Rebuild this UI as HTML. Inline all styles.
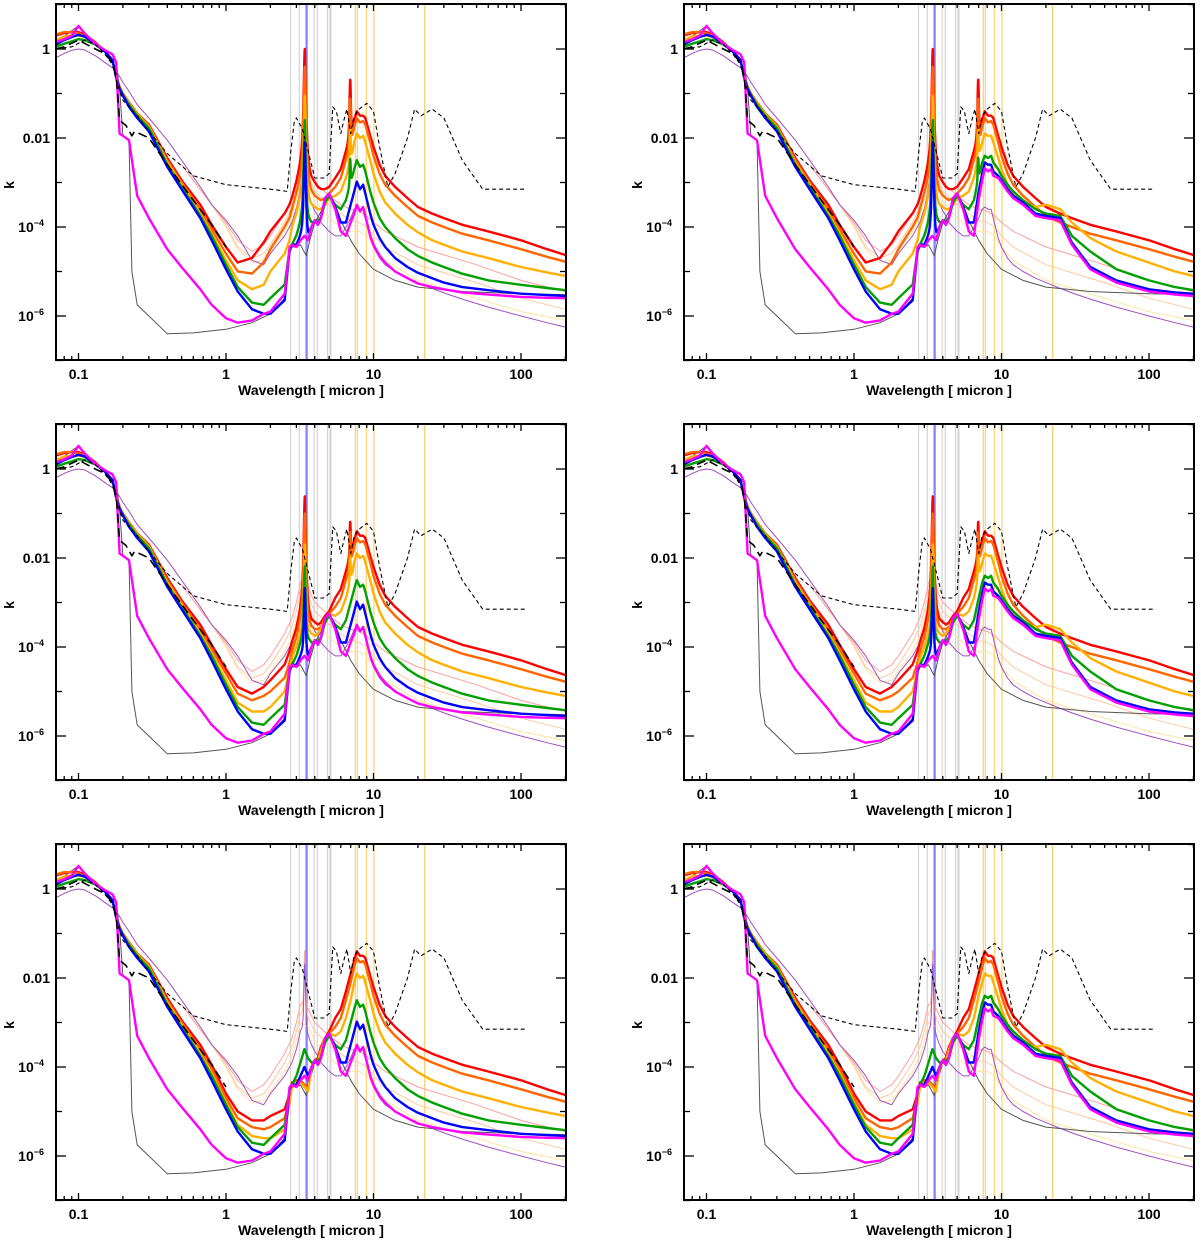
<!DOCTYPE html>
<html><head><meta charset="utf-8"><title>k spectra</title>
<style>
html,body{margin:0;padding:0;background:#fff;}
svg{display:block;font-family:"Liberation Sans",sans-serif;}
.lbl{font-size:14px;font-weight:bold;fill:#000;}
</style></head>
<body>
<svg id="chart" width="1200" height="1243" viewBox="0 0 1200 1243" xmlns="http://www.w3.org/2000/svg"></svg>
<script>
// ---------- data (log10 k) ----------
const uvGrid=[0.07,0.08,0.09,0.1,0.11,0.13,0.15,0.17,0.18,0.19,0.2,0.22,0.25,0.3,0.4,0.5,0.67,0.8,1.0,1.2,1.5,1.8];
const mirGrid=[2.0,2.5,2.7,2.8,3.0,3.2,3.4,3.6,3.8,4.0,4.2,4.4,4.7,5.0,5.5,6.0,6.5,7.0,7.4,7.7,8.1,8.5,8.8,9.5,10,11,12,14,17,20,25,30,40,60,100,150,200];

const redUV=[.3,.36,.38,.38,.33,.15,-.05,-.25,-.6,-.85,-1.0,-1.2,-1.45,-1.7,-2.45,-2.95,-3.5,-3.95,-4.45,-4.8,-4.7,-4.35];
const orangeUV=[.33,.38,.38,.35,.3,.13,-.05,-.25,-.6,-.85,-1.0,-1.2,-1.45,-1.72,-2.5,-3.0,-3.6,-4.05,-4.6,-5.0,-5.05,-4.8];
const yellowUV=[.2,.28,.3,.3,.27,.12,-.05,-.25,-.62,-.87,-1.02,-1.22,-1.47,-1.75,-2.55,-3.05,-3.7,-4.15,-4.75,-5.2,-5.4,-5.3];
const greenUV=[.05,.12,.17,.22,.2,.1,-.05,-.25,-.62,-.88,-1.03,-1.25,-1.5,-1.78,-2.6,-3.1,-3.75,-4.2,-4.85,-5.35,-5.7,-5.75];
const blueUV=[.1,.2,.27,.32,.28,.12,-.05,-.25,-.65,-.9,-1.05,-1.3,-1.55,-1.85,-2.65,-3.15,-3.8,-4.3,-4.95,-5.45,-5.85,-5.95];
const magentaUV=[.15,.22,.3,.52,.35,.12,-.02,-.12,-.3,-1.9,-1.95,-2.05,-3.3,-3.8,-4.5,-4.9,-5.4,-5.75,-6.05,-6.15,-6.1,-5.95];

const redMIR=[-4.1,-3.7,-3.5,-3.35,-3.0,-2.6,-2.4,-2.7,-2.9,-3.0,-3.1,-3.15,-3.15,-3.1,-2.9,-2.7,-2.3,-1.9,-1.6,-1.4,-1.5,-1.5,-1.55,-1.95,-2.2,-2.6,-2.85,-3.1,-3.35,-3.55,-3.7,-3.8,-3.95,-4.1,-4.3,-4.5,-4.63];
const orangeMIR=[-4.5,-4.0,-3.8,-3.6,-3.25,-2.9,-2.7,-3.0,-3.2,-3.3,-3.35,-3.4,-3.35,-3.25,-3.1,-2.9,-2.5,-2.1,-1.75,-1.55,-1.65,-1.62,-1.7,-2.1,-2.4,-2.8,-3.05,-3.3,-3.55,-3.75,-3.9,-4.0,-4.15,-4.3,-4.5,-4.67,-4.78];
const yellowMIR=[-5.0,-4.6,-4.3,-4.0,-3.7,-3.3,-3.1,-3.35,-3.5,-3.55,-3.6,-3.6,-3.5,-3.35,-3.3,-3.2,-2.9,-2.5,-2.1,-1.9,-2.0,-1.95,-2.1,-2.5,-2.8,-3.2,-3.45,-3.7,-3.95,-4.12,-4.3,-4.4,-4.55,-4.7,-4.9,-5.02,-5.1];
const greenMIR=[-5.6,-5.3,-4.5,-4.4,-4.2,-3.9,-3.6,-3.8,-3.9,-3.9,-3.85,-3.8,-3.45,-3.3,-3.5,-3.6,-3.4,-3.0,-2.7,-2.5,-2.65,-2.6,-2.75,-3.2,-3.45,-3.8,-4.0,-4.25,-4.5,-4.65,-4.8,-4.9,-5.05,-5.2,-5.3,-5.37,-5.42];
const blueMIR=[-5.95,-5.65,-4.5,-4.4,-4.4,-4.2,-4.0,-4.2,-4.0,-3.85,-3.95,-3.8,-3.35,-3.25,-3.55,-3.9,-3.9,-3.5,-3.2,-2.98,-3.15,-3.05,-3.25,-3.7,-3.95,-4.25,-4.45,-4.7,-4.9,-5.03,-5.15,-5.25,-5.35,-5.42,-5.5,-5.53,-5.55];
const magentaMIR=[-5.9,-5.5,-4.45,-4.4,-4.45,-4.3,-4.2,-4.3,-4.0,-3.85,-3.95,-3.8,-3.35,-3.25,-3.6,-4.1,-4.2,-3.9,-3.7,-3.5,-3.65,-3.55,-3.75,-4.2,-4.4,-4.65,-4.8,-5.0,-5.15,-5.27,-5.35,-5.4,-5.47,-5.52,-5.57,-5.59,-5.6];

// right-column tails (mirGrid index 17..36)
const yellowRight=[-2.4,-2.1,-1.9,-1.95,-1.95,-2.1,-2.45,-2.7,-3.05,-3.25,-3.45,-3.55,-3.5,-3.6,-3.9,-4.25,-4.55,-4.8,-5.0,-5.1];
const greenRight=[-2.9,-2.55,-2.4,-2.45,-2.4,-2.55,-2.7,-2.85,-3.05,-3.2,-3.4,-3.6,-3.7,-3.75,-4.2,-4.55,-4.95,-5.2,-5.35,-5.42];
const blueRight=[-3.2,-2.8,-2.55,-2.6,-2.6,-2.75,-2.85,-2.95,-3.15,-3.3,-3.45,-3.7,-3.75,-3.8,-4.35,-4.9,-5.2,-5.4,-5.47,-5.5];
const magentaRight=[-3.4,-2.95,-2.68,-2.75,-2.7,-2.85,-2.9,-3.0,-3.2,-3.35,-3.5,-3.75,-3.8,-3.85,-4.4,-4.95,-5.25,-5.45,-5.52,-5.55];

// row overrides: uvGrid idx 18..21, mirGrid idx 0..13
const redUVRow2=[-4.5,-4.9,-5.05,-4.9], orangeUVRow2=[-4.6,-5.05,-5.2,-5.1], yellowUVRow2=[-4.75,-5.25,-5.45,-5.45];
const redUVRow3=[-4.6,-5.0,-5.2,-5.2], orangeUVRow3=[-4.7,-5.15,-5.35,-5.4], yellowUVRow3=[-4.8,-5.3,-5.55,-5.6];
const redMIRRow2=[-4.75,-4.4,-4.1,-3.9,-3.6,-3.2,-3.0,-3.2,-3.4,-3.45,-3.5,-3.45,-3.3,-3.2];
const orangeMIRRow2=[-5.0,-4.7,-4.35,-4.1,-3.8,-3.4,-3.2,-3.4,-3.55,-3.6,-3.6,-3.55,-3.35,-3.25];
const yellowMIRRow2=[-5.35,-5.0,-4.5,-4.25,-4.0,-3.7,-3.5,-3.6,-3.7,-3.75,-3.7,-3.6,-3.35,-3.25];
const redMIRRow3=[-5.1,-4.95,-4.6,-4.35,-4.3,-4.3,-4.4,-4.45,-4.0,-3.85,-3.8,-3.55,-3.35,-3.2];
const orangeMIRRow3=[-5.35,-5.15,-4.7,-4.4,-4.3,-4.3,-4.4,-4.5,-4.0,-3.85,-3.85,-3.6,-3.35,-3.25];
const yellowMIRRow3=[-5.6,-5.4,-4.8,-4.45,-4.35,-4.35,-4.45,-4.55,-4.0,-3.9,-3.9,-3.65,-3.35,-3.25];

// sharp peaks (log10 peak height) [red, orange, yellow, green, blue, magenta]
const peak34Row1=[0,-0.4,-1.05,-1.6,-2.1,null];
const peak34Row2=[-0.62,-1.0,-1.7,-2.2,-2.7,null];
const peak34Row3=[null,null,null,null,null,null];
const peak69Row1=[-0.7,-1.15,-1.9,-2.6,null,null];
const peak69Row2=[-1.26,-1.5,-2.1,null,null,null];
const peak69Row3=[null,null,null,null,null,null];

// thin lines
const violetGrid=uvGrid.concat(mirGrid);
const violetVals=[-.2,-.1,-.03,0,-.02,-.15,-.3,-.42,-.5,-.62,-.75,-.95,-1.25,-1.55,-2.05,-2.5,-3.1,-3.5,-3.85,-4.2,-4.75,-4.85,
 -4.6,-4.2,-4.0,-3.9,-3.6,-3.2,-3.1,-3.3,-3.5,-3.65,-3.75,-3.9,-4.0,-4.1,-4.2,-4.2,-4.0,-3.8,-3.6,-3.55,-3.6,-3.6,-3.8,-4.25,-4.45,-4.7,-4.85,-5.0,-5.15,-5.25,-5.38,-5.48,-5.62,-5.8,-6.0,-6.15,-6.25];
const thinGrid=[0.5,0.8,1.0,1.2,1.5,1.8,2.0,2.5,2.8,3.0,3.2,3.6,4.0,5.0,6.0,7.0,8.0,9.0,10,12,20,50,100,200];
const pinkVals=[-2.6,-3.5,-3.9,-4.3,-4.55,-4.4,-4.2,-3.7,-3.35,-3.0,-2.6,-2.7,-3.0,-3.3,-3.5,-3.6,-3.65,-3.75,-3.9,-4.1,-4.45,-4.85,-5.2,-5.45];
const peachVals=[-2.6,-3.5,-3.95,-4.45,-4.7,-4.6,-4.4,-3.9,-3.55,-3.2,-2.8,-2.9,-3.2,-3.5,-3.7,-3.85,-3.9,-4.0,-4.2,-4.45,-4.85,-5.25,-5.6,-5.85];
const lightYellowVals=[-2.6,-3.5,-4.0,-4.5,-4.8,-4.75,-4.55,-4.1,-3.75,-3.4,-3.0,-3.1,-3.4,-3.8,-4.0,-4.1,-4.1,-4.2,-4.45,-4.75,-5.2,-5.6,-5.9,-6.1];
const thinPeak34=[-0.4,-0.6,-1.4];

const blackGrid=[0.07,0.1,0.13,0.17,0.18,0.19,0.2,0.22,0.23,0.25,0.3,0.4,0.6,1.0,1.5,2.0,2.5,2.7,2.8,3.0,3.2,3.5,3.7,4.0,4.5,5.0,5.5,6.0,7.0,8.0,10,14,20,40,100,200];
const blackVals=[.15,.52,.12,-.12,-.3,-.9,-1.95,-2.05,-5.0,-5.75,-6.0,-6.4,-6.38,-6.3,-6.15,-5.95,-5.6,-4.6,-4.45,-4.45,-4.4,-4.65,-4.3,-3.9,-3.6,-3.25,-3.5,-3.85,-4.3,-4.6,-4.95,-5.2,-5.35,-5.45,-5.5,-5.52];

const dashGrid=[0.07,0.09,0.11,0.13,0.15,0.17,0.18,0.2,0.25,0.3,0.4,0.6,1.0,2.0,2.6,2.75,2.9,3.0,3.3,3.6,4.0,4.6,5.0,5.3,5.6,6.0,6.3,6.6,7.0,7.4,8.0,9.0,10,11,12.5,14,17,19,21,25,30,40,55,110];
const dashVals=[0,0.05,0.2,0.1,-0.1,-0.35,-0.7,-1.15,-1.5,-1.85,-2.35,-2.85,-3.05,-3.15,-3.2,-2.3,-1.65,-1.55,-1.8,-2.3,-2.9,-2.9,-2.8,-1.3,-1.4,-1.9,-1.6,-1.35,-1.9,-1.5,-1.35,-1.22,-1.4,-2.2,-3.1,-2.8,-2.0,-1.35,-1.5,-1.35,-1.55,-2.5,-3.15,-3.15];
const longDashGrid=[0.07,0.08,0.1,0.13,0.15,0.17,0.18,0.19,0.21,0.23,0.24,0.3,0.4,0.6,0.8,1.0];
const longDashVals=[0,0.05,0.2,0.0,-0.1,-0.3,-0.6,-1.6,-1.72,-1.95,-1.85,-2.0,-2.6,-3.4,-3.95,-4.45];

const grayLines=[2.74,3.14,3.96,4.16,4.88,5.07,5.14];
const blueLines=[3.49,3.55];
const orangeLines=[7.53,7.77,8.94,10.07,22.2];

const xTickMajor=[0.1,1,10,100];
const xTickLabels=["0.1","1","10","100"];
const yTickMajor=[0,-2,-4,-6];
const yTickLabels=["1","0.01","10|−4","10|−6"];

// ---------- drawing ----------
const NS="http://www.w3.org/2000/svg";
const svg=document.getElementById('chart');
const BX0=56,BX1=566,BY0=4,BY1=360;
function mk(tag,attrs,parent){const e=document.createElementNS(NS,tag);for(const k in attrs)e.setAttribute(k,attrs[k]);(parent||svg).appendChild(e);return e;}
function interp(grid,vals,lam){const l=Math.log10(lam);
 if(lam<=grid[0])return vals[0]; if(lam>=grid[grid.length-1])return vals[vals.length-1];
 for(let i=0;i<grid.length-1;i++){if(lam>=grid[i]&&lam<=grid[i+1]){const a=Math.log10(grid[i]),b=Math.log10(grid[i+1]);return vals[i]+(vals[i+1]-vals[i])*(l-a)/(b-a);}}
 return vals[vals.length-1];}
// squared-Lorentzian peak profile (narrow wings)
function lor(lam,l0,logA,g){if(logA===null||logA===undefined)return 0;const A=Math.pow(10,logA);const q=1+((lam-l0)/g)*((lam-l0)/g);return A/(q*q);}

const thickColors=['#ff0000','#ff6600','#ffb000','#00a000','#0000ff','#ff00ff'];
const thickNames=['red','orange','yellow','green','blue','magenta'];
const UVs=[redUV,orangeUV,yellowUV,greenUV,blueUV,magentaUV];
const MIRs=[redMIR,orangeMIR,yellowMIR,greenMIR,blueMIR,magentaMIR];
const RIGHTs=[null,null,yellowRight,greenRight,blueRight,magentaRight];
const UVr2=[redUVRow2,orangeUVRow2,yellowUVRow2,null,null,null];
const UVr3=[redUVRow3,orangeUVRow3,yellowUVRow3,null,null,null];
const MIRr2=[redMIRRow2,orangeMIRRow2,yellowMIRRow2,null,null,null];
const MIRr3=[redMIRRow3,orangeMIRRow3,yellowMIRRow3,null,null,null];
const P34=[peak34Row1,peak34Row2,peak34Row3];
const P69=[peak69Row1,peak69Row2,peak69Row3];

const fine=[];for(let l=3.1;l<=3.8;l+=0.01)fine.push(+l.toFixed(3));for(let l=6.6;l<=7.4;l+=0.02)fine.push(+l.toFixed(3));

function drawPanel(row,col,pi){
 const ox=col*628, oy=row*420;
 const X=lam=>ox+226+147.5*Math.log10(lam);
 const Y=lk=>oy+49-44.5*lk;
 const g=mk('g',{});
 
 
 const cid='clip'+pi;
 const cp=mk('clipPath',{id:cid},g);mk('rect',{x:ox+BX0,y:oy+BY0,width:BX1-BX0,height:BY1-BY0},cp);
 const pg=mk('g',{'clip-path':'url(#'+cid+')'},g);
 
 
 const vline=(lam,c,w)=>{const e=mk('line',{x1:X(lam),x2:X(lam),y1:oy+BY0,y2:oy+BY1,stroke:c,'stroke-width':w},pg);
   
   };
 grayLines.forEach(l=>vline(l,'#d4d4d4',1.2));
 blueLines.forEach(l=>vline(l,'#8080ff',1.2));
 orangeLines.forEach(l=>vline(l,'#ffd070',1.2));
 const path=(pts,c,w,name,dash)=>{let d='';pts.forEach((p,i)=>{d+=(i?'L':'M')+X(p[0]).toFixed(1)+','+Y(p[1]).toFixed(1);});
   const e=mk('path',{d:d,fill:'none',stroke:c,'stroke-width':w,'stroke-linejoin':'round'},pg);
   if(dash)e.setAttribute('stroke-dasharray',dash);
   
   };
 const withPeak=(grid,vals,p34)=>{const lams=grid.concat(fine.filter(f=>f>grid[0]&&f<grid[grid.length-1])).sort((a,b)=>a-b);
   return lams.map(l=>{const b=Math.pow(10,interp(grid,vals,l));return [l,Math.log10(b+lor(l,3.42,p34,0.04))];});};
 // thin lines
 path(withPeak(thinGrid,lightYellowVals,null),'#ffe4a0',1,'thin-lightyellow-line');
 path(withPeak(thinGrid,peachVals,thinPeak34[row]),'#ffc8a0',1,'thin-peach-line');
 path(withPeak(thinGrid,pinkVals,thinPeak34[row]),'#ffa0a0',1,'thin-pink-line');
 path(withPeak(violetGrid,violetVals,thinPeak34[row]-0.3),'#a050c0',1,'thin-violet-line');
 path(blackGrid.map((l,i)=>[l,blackVals[i]]),'#555555',1,'thin-black-line');
 // thick
 for(let i=0;i<6;i++){
   const uv=UVs[i].slice(), mir=MIRs[i].slice();
   const uo=row===1?UVr2[i]:row===2?UVr3[i]:null; if(uo)uo.forEach((v,j)=>uv[18+j]=v);
   const mo=row===1?MIRr2[i]:row===2?MIRr3[i]:null; if(mo)mo.forEach((v,j)=>mir[j]=v);
   if(col===1&&RIGHTs[i])RIGHTs[i].forEach((v,j)=>mir[17+j]=v);
   const grid=uvGrid.concat(mirGrid), vals=uv.concat(mir);
   const lams=grid.concat(fine).sort((a,b)=>a-b);
   const pts=lams.map(l=>{const b=Math.pow(10,interp(grid,vals,l));return [l,Math.log10(b+lor(l,3.42,P34[row][i],0.04)+lor(l,6.95,P69[row][i],0.07))];});
   path(pts,thickColors[i],2.4,'curve-'+thickNames[i]);
 }
 path(longDashGrid.map((l,i)=>[l,longDashVals[i]]),'#000',1.6,'long-dashed-line','9,5');
 path(dashGrid.map((l,i)=>[l,dashVals[i]]),'#000',1.1,'dashed-reference-line','4,3');
 // axes box
 const bx=mk('rect',{x:ox+BX0,y:oy+BY0,width:BX1-BX0,height:BY1-BY0,fill:'none',stroke:'#000','stroke-width':2},g);
 
 
 // x ticks
 for(let d=-2;d<=2;d++)for(let m=1;m<=9;m++){const lam=m*Math.pow(10,d);const x=X(lam);if(x<ox+BX0||x>ox+BX1)continue;
   const L=m===1?7:4;
   mk('line',{x1:x,x2:x,y1:oy+BY1,y2:oy+BY1-L,stroke:'#000','stroke-width':1.3},g);
   mk('line',{x1:x,x2:x,y1:oy+BY0,y2:oy+BY0+L,stroke:'#000','stroke-width':1.3},g);}
 xTickMajor.forEach((v,i)=>{const t=mk('text',{x:X(v),y:oy+379,'text-anchor':'middle',class:'lbl'},g);t.textContent=xTickLabels[i];
   
   });
 // y ticks
 for(let e=-7;e<=1;e++){const y=Y(e);const L=(e%2===0)?10:6;
   mk('line',{x1:ox+BX0,x2:ox+BX0+L,y1:y,y2:y,stroke:'#000','stroke-width':1.3},g);
   mk('line',{x1:ox+BX1,x2:ox+BX1-L,y1:y,y2:y,stroke:'#000','stroke-width':1.3},g);}
 yTickMajor.forEach((v,i)=>{const t=mk('text',{x:ox+50,y:Y(v)+5,'text-anchor':'end',class:'lbl'},g);
   
   
   const parts=yTickLabels[i].split('|');
   if(parts.length===1)t.textContent=parts[0];
   else{t.setAttribute('x',ox+44);const a=mk('tspan',{},t);a.textContent=parts[0];const b=mk('tspan',{dy:-6,'font-size':'9px'},t);b.textContent=parts[1];}});
 const xt=mk('text',{x:ox+311,y:oy+395,'text-anchor':'middle',class:'lbl'},g);xt.textContent='Wavelength [ micron ]';
 
 
 const yt=mk('text',{x:ox+14,y:oy+185,'text-anchor':'middle',class:'lbl',transform:'rotate(-90 '+(ox+14)+' '+(oy+185)+')'},g);yt.textContent='k';
 
 
}
let pi=0;for(let r=0;r<3;r++)for(let c=0;c<2;c++){drawPanel(r,c,pi);pi++;}
</script>
</body></html>
